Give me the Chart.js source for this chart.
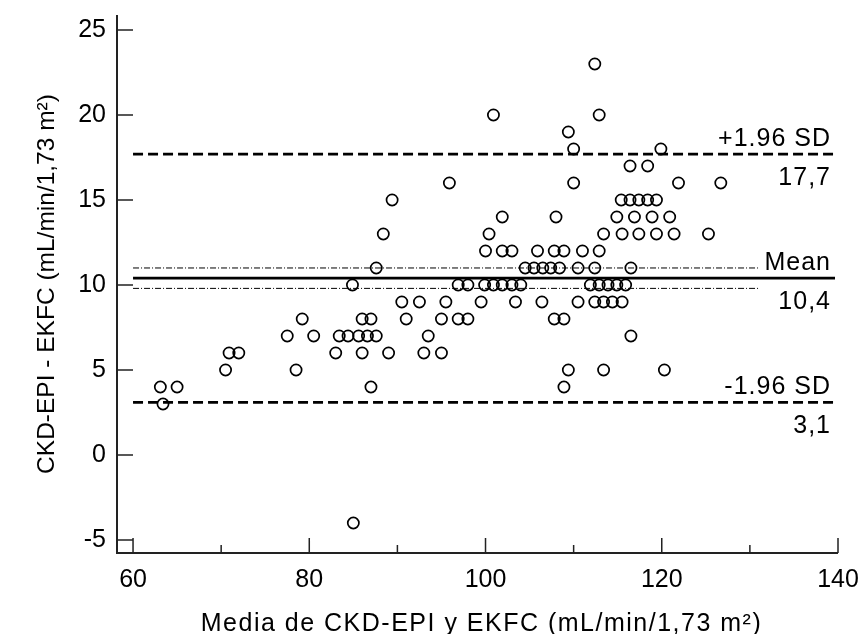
<!DOCTYPE html>
<html>
<head>
<meta charset="utf-8">
<title>Bland-Altman CKD-EPI vs EKFC</title>
<script src="https://cdn.jsdelivr.net/npm/chart.js@4.4.1/dist/chart.umd.min.js"></script>
<style>
  html, body { margin: 0; padding: 0; background: #fff; }
  #chart { display: block; }
</style>
</head>
<body>
<canvas id="chart" width="862" height="634"></canvas>
<script>
const FONT = '"Liberation Sans", Arial, sans-serif';

// media de CKD-EPI y EKFC (eje x), agrupado por fila de diferencia
const avgValues = [
  85,
  63.4,
  63.1, 65, 87, 108.9,
  70.5, 78.5, 109.4, 113.4, 120.3,
  70.9, 72, 83, 86, 89, 93, 95,
  77.5, 80.5, 83.4, 84.4, 85.6, 86.6, 87.6, 93.5, 116.5,
  79.2, 86, 87, 91, 95, 96.9, 98, 107.8, 108.9,
  90.5, 92.5, 95.5, 99.5, 103.4, 106.4, 110.5, 112.4, 113.4, 114.4, 115.5,
  84.9, 96.9, 98, 99.9, 100.9, 101.9, 103, 104, 111.9, 112.9, 113.9, 114.9, 115.9,
  87.6, 104.5, 105.5, 106.5, 107.4, 108.4, 110.5, 112.4, 116.5,
  100, 101.9, 103, 105.9, 107.8, 108.9, 111, 112.9,
  88.4, 100.4, 113.4, 115.5, 117.4, 119.4, 121.4, 125.3,
  101.9, 108, 114.9, 116.9, 118.9, 120.9,
  89.4, 115.4, 116.4, 117.4, 118.4, 119.4,
  95.9, 110, 121.9, 126.7,
  116.4, 118.4,
  110, 119.9,
  109.4,
  100.9, 112.9,
  112.4
];

// diferencia CKD-EPI - EKFC (eje y)
const diffValues = [
  -4,
  3,
  4, 4, 4, 4,
  5, 5, 5, 5, 5,
  6, 6, 6, 6, 6, 6, 6,
  7, 7, 7, 7, 7, 7, 7, 7, 7,
  8, 8, 8, 8, 8, 8, 8, 8, 8,
  9, 9, 9, 9, 9, 9, 9, 9, 9, 9, 9,
  10, 10, 10, 10, 10, 10, 10, 10, 10, 10, 10, 10, 10,
  11, 11, 11, 11, 11, 11, 11, 11, 11,
  12, 12, 12, 12, 12, 12, 12, 12,
  13, 13, 13, 13, 13, 13, 13, 13,
  14, 14, 14, 14, 14, 14,
  15, 15, 15, 15, 15, 15,
  16, 16, 16, 16,
  17, 17,
  18, 18,
  19,
  20, 20,
  23
];

const xTicks = [60, 80, 100, 120, 140];
const xMinorTicks = [70, 90, 110, 130];
const yTicks = [-5, 0, 5, 10, 15, 20, 25];

const meanDiff = 10.4;
const upperLoA = 17.7;
const lowerLoA = 3.1;
const meanCI = [9.8, 11.0];
const ciLineEnd = 131;

const refLines = [
  { value: upperLoA, name: '+1.96 SD' },
  { value: meanDiff, name: 'Mean' },
  { value: lowerLoA, name: '-1.96 SD' }
];

const xTitle = 'Media de CKD-EPI y EKFC (mL/min/1,73 m²)';
const yTitle = 'CKD-EPI - EKFC (mL/min/1,73 m²)';

function hline(ctx, x1, x2, y) {
  ctx.beginPath();
  ctx.moveTo(x1, y);
  ctx.lineTo(x2, y);
  ctx.stroke();
}

// sin relleno extra para las etiquetas de los extremos
function noPadding(s) {
  s.paddingTop = 0;
  s.paddingBottom = 0;
  s.paddingLeft = 0;
  s.paddingRight = 0;
}

const blandAltman = {
  id: 'blandAltman',
  beforeDatasetsDraw(chart) {
    const { ctx, scales: { x, y } } = chart;
    const left = x.getPixelForValue(xTicks[0]);
    const right = x.getPixelForValue(xTicks[xTicks.length - 1]) - 3;
    ctx.save();
    ctx.strokeStyle = '#000';

    // IC de la media
    ctx.lineWidth = 1;
    ctx.setLineDash([6, 2, 1, 2]);
    meanCI.forEach(v => hline(ctx, left, x.getPixelForValue(ciLineEnd), y.getPixelForValue(v)));

    // media y limites de concordancia
    refLines.forEach(r => {
      ctx.lineWidth = 2.8;
      ctx.setLineDash(r.value === meanDiff ? [] : [10, 5]);
      hline(ctx, left, right, y.getPixelForValue(r.value));
    });
    ctx.restore();
  },
  afterDraw(chart) {
    const { ctx, chartArea: ca, scales: { x, y } } = chart;
    ctx.save();

    // ejes
    ctx.strokeStyle = '#222';
    ctx.lineWidth = 2;
    ctx.beginPath();
    ctx.moveTo(ca.left, ca.top);
    ctx.lineTo(ca.left, ca.bottom);
    ctx.lineTo(x.getPixelForValue(xTicks[xTicks.length - 1]), ca.bottom);
    ctx.stroke();

    ctx.lineWidth = 1.5;
    ctx.beginPath();
    yTicks.forEach(v => {
      const py = y.getPixelForValue(v);
      ctx.moveTo(ca.left, py);
      ctx.lineTo(ca.left + 16, py);
    });
    xTicks.forEach(v => {
      const px = x.getPixelForValue(v);
      ctx.moveTo(px, ca.bottom);
      ctx.lineTo(px, ca.bottom - 15);
    });
    xMinorTicks.forEach(v => {
      const px = x.getPixelForValue(v);
      ctx.moveTo(px, ca.bottom);
      ctx.lineTo(px, ca.bottom - 8);
    });
    ctx.stroke();

    // etiquetas de las lineas
    ctx.fillStyle = '#000';
    ctx.font = '25px ' + FONT;
    ctx.letterSpacing = '1px';
    ctx.textAlign = 'right';
    ctx.textBaseline = 'alphabetic';
    const lx = x.getPixelForValue(xTicks[xTicks.length - 1]) - 7;
    refLines.forEach(r => {
      const py = y.getPixelForValue(r.value);
      ctx.fillText(r.name, lx, py - 8.5);
      ctx.fillText(r.value.toFixed(1).replace('.', ','), lx, py + 31);
    });

    // titulos de los ejes
    ctx.letterSpacing = '1.5px';
    ctx.textAlign = 'center';
    ctx.fillText(xTitle, (ca.left + ca.right) / 2 + 4, 631);
    ctx.letterSpacing = '0px';
    ctx.font = '24.5px ' + FONT;
    ctx.translate(54, (ca.top + ca.bottom) / 2);
    ctx.rotate(-Math.PI / 2);
    ctx.fillText(yTitle, 0, 0);
    ctx.restore();
  }
};

new Chart(document.getElementById('chart'), {
  type: 'scatter',
  data: {
    datasets: [{
      label: 'Diferencia',
      data: avgValues.map((v, i) => ({ x: v, y: diffValues[i] })),
      pointRadius: 5.6,
      pointHoverRadius: 5.6,
      pointBorderWidth: 1.7,
      pointBorderColor: '#000',
      pointBackgroundColor: 'rgba(0,0,0,0)'
    }]
  },
  options: {
    responsive: false,
    animation: false,
    devicePixelRatio: 1,
    layout: { padding: { top: 15, right: 24, left: 0, bottom: 0 } },
    plugins: {
      legend: { display: false },
      tooltip: { enabled: false }
    },
    scales: {
      x: {
        type: 'linear',
        min: 58.18,
        max: 140,
        afterFit: s => { s.height = 81; noPadding(s); },
        afterBuildTicks: s => { s.ticks = xTicks.map(v => ({ value: v })); },
        grid: { display: false, drawTicks: false },
        border: { display: false },
        ticks: { color: '#000', font: { size: 25, family: FONT }, padding: 12, maxRotation: 0, autoSkip: false }
      },
      y: {
        type: 'linear',
        min: -5.765,
        max: 25.88,
        afterFit: s => { s.width = 117; noPadding(s); },
        afterBuildTicks: s => { s.ticks = yTicks.map(v => ({ value: v })); },
        grid: { display: false, drawTicks: false },
        border: { display: false },
        ticks: { color: '#000', font: { size: 25, family: FONT }, padding: 11, autoSkip: false }
      }
    }
  },
  plugins: [blandAltman]
});
</script>
</body>
</html>
